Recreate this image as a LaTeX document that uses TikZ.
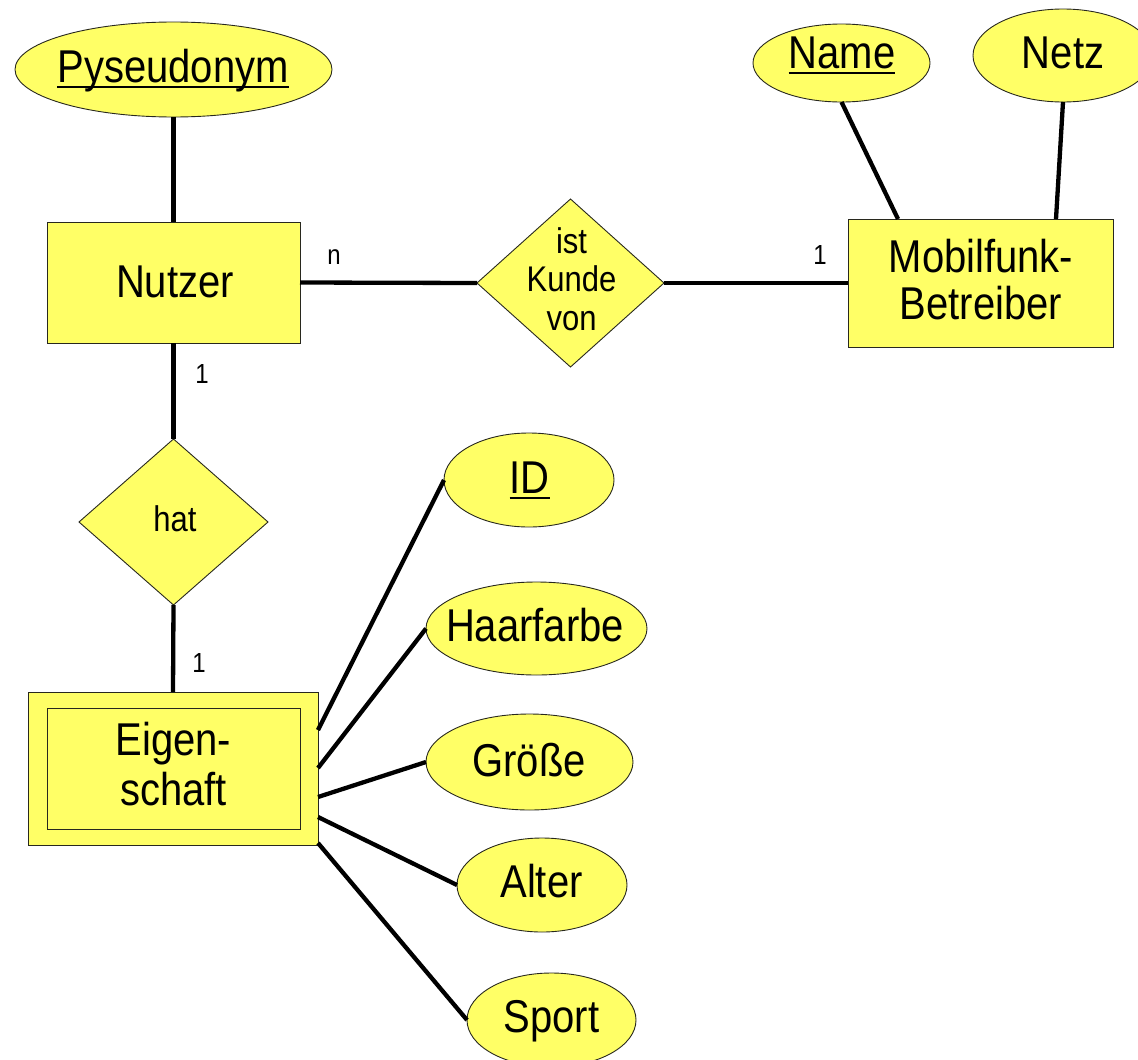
\documentclass[tikz,border=0pt]{standalone}
\usepackage{fontspec}
\setmainfont{Liberation Sans}
\usetikzlibrary{shapes.geometric}
\definecolor{erfill}{RGB}{255,255,102}
\definecolor{erline}{RGB}{40,40,30}
\newcommand\st[1]{\scalebox{1}[1.15]{#1}}
\newcommand\ul[1]{\setbox0\hbox{#1}\rlap{\rule[-5.6pt]{\wd0}{2pt}}\box0}
\newcommand\twolines[3]{\fontsize{#1}{#2}\selectfont\begin{tabular}[t]{@{}c@{}}#3\end{tabular}}
\tikzset{
  shapebase/.style={draw=erline, line width=0.9pt, fill=erfill, inner sep=0pt, outer sep=0pt},
  entity/.style={shapebase, rectangle},
  attr/.style={shapebase, ellipse},
  rel/.style={shapebase, diamond},
  bigtxt/.style={inner sep=0pt, anchor=base, font=\fontsize{40}{42}\selectfont},
  midtxt/.style={inner sep=0pt, anchor=base, font=\fontsize{31}{33.5}\selectfont},
  cardtxt/.style={inner sep=0pt, anchor=base, font=\fontsize{24}{26}\selectfont},
  conn/.style={line width=4.3pt, black},
}
\begin{document}
\begin{tikzpicture}[x=1pt,y=-1pt]
\useasboundingbox (0,0) rectangle (1138,1060);
\clip (0,0) rectangle (1138,1060);

% shapes
\node[attr, minimum width=317pt, minimum height=95pt] (pseudo) at (173.5,69.5) {};
\node[entity, minimum width=253pt, minimum height=121pt] (nutzer) at (173.5,282.5) {};
\node[rel, minimum width=187pt, minimum height=168pt] (kunde) at (570.5,283) {};
\node[entity, minimum width=265pt, minimum height=128pt] (mobil) at (980.5,283) {};
\node[attr, minimum width=177pt, minimum height=78pt] (name) at (841.5,63) {};
\node[attr, minimum width=180pt, minimum height=93pt] (netz) at (1063,55.5) {};
\node[rel, minimum width=189pt, minimum height=166pt] (hat) at (173.5,522) {};
\node[entity, minimum width=290pt, minimum height=153pt] (eig) at (173,768.5) {};
\node[entity, minimum width=253pt, minimum height=121pt] (eiginner) at (173.5,768.5) {};
\node[attr, minimum width=170pt, minimum height=94pt] (id) at (529,480) {};
\node[attr, minimum width=221pt, minimum height=93pt] (haar) at (536.5,628.5) {};
\node[attr, minimum width=207pt, minimum height=96pt] (groesse) at (529.5,762) {};
\node[attr, minimum width=170pt, minimum height=94pt] (alter) at (542,885) {};
\node[attr, minimum width=169pt, minimum height=94pt] (sport) at (551.5,1020) {};

% connectors
\draw[conn] (pseudo.south) -- (nutzer.north);
\draw[conn] (nutzer.east) -- (kunde.west);
\draw[conn] (kunde.east) -- (mobil.west);
\draw[conn] (name.south) -- ([xshift=-82.5pt]mobil.north);
\draw[conn] (netz.south) -- ([xshift=75.5pt]mobil.north);
\draw[conn] (nutzer.south) -- (hat.north);
\draw[conn] (hat.south) -- (eig.north);
\draw[conn] ([yshift=-38pt]eig.north east) -- (id.west);
\draw[conn] ([yshift=-76pt]eig.north east) -- (haar.west);
\draw[conn] ([yshift=-105pt]eig.north east) -- (groesse.west);
\draw[conn] ([yshift=-125pt]eig.north east) -- (alter.west);
\draw[conn] ([yshift=2pt]eig.south east) -- (sport.west);

% texts
\node[bigtxt] (tpseudo) at (173,82) {\st{\ul{Pyseudonym}}};
\node[bigtxt] (tnutzer) at (175,297) {\st{Nutzer}};
\node[bigtxt] (tmobil) at (981,272) {\st{\twolines{40}{41.7}{Mobilfunk-\\Betreiber}}};
\node[midtxt] (tkunde) at (571.5,253) {\st{\twolines{31}{33.5}{ist\\Kunde\\von}}};
\node[midtxt] (that) at (175,531) {\st{hat}};
\node[bigtxt] (teig) at (173.5,755) {\st{\twolines{40}{44.3}{Eigen-\\schaft}}};
\node[bigtxt] (tname) at (842,68) {\st{\ul{Name}}};
\node[bigtxt] (tnetz) at (1063,68) {\st{Netz}};
\node[bigtxt] (tid) at (529.5,493) {\st{\ul{ID}}};
\node[bigtxt] (thaar) at (535,641) {\st{Haarfarbe}};
\node[bigtxt] (tgroesse) at (529,776) {\st{Größe}};
\node[bigtxt] (talter) at (541.5,897) {\st{Alter}};
\node[bigtxt] (tsport) at (551.5,1032) {\st{Sport}};

% cardinalities
\node[cardtxt] (cn) at (334,264) {\st{n}};
\node[cardtxt] (c1a) at (820,264) {\st{1}};
\node[cardtxt] (c1b) at (202,383) {\st{1}};
\node[cardtxt] (c1c) at (199,672) {\st{1}};
\end{tikzpicture}
\end{document}
